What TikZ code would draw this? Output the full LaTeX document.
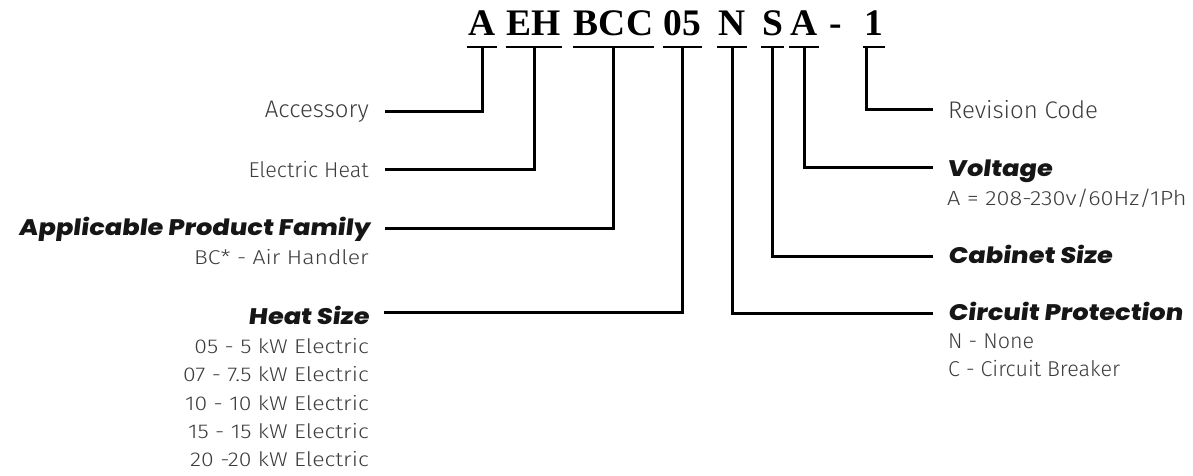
\documentclass[tikz,border=0pt]{standalone}
\usepackage{fontspec}
\setmainfont{Fira Sans Light}
\newfontfamily\lightw{Fira Sans Light}[FakeStretch=1.15]
\newfontfamily\heavyf{Poppins ExtraBold}[FakeSlant=0.12,FakeStretch=1.14]
\newfontfamily\codef{Liberation Serif Bold}
\definecolor{lighttext}{HTML}{3C3C3C}
\definecolor{heavytext}{HTML}{161616}
\begin{document}
\begin{tikzpicture}[x=1pt,y=-1pt,
  code/.style={font=\codef\fontsize{37.5}{40}\selectfont, inner xsep=1pt, inner ysep=0pt, anchor=base},
  lt/.style={font=\fontsize{#1}{#1}\selectfont, text=lighttext, inner sep=0pt},
  lt/.default=20,
  lw/.style={font=\lightw\fontsize{#1}{#1}\selectfont, text=lighttext, inner sep=0pt},
  lw/.default=20,
  hv/.style={font=\heavyf\fontsize{22.5}{26}\selectfont, text=heavytext, inner sep=0pt},
  wire/.style={line width=3pt, line join=miter},
  uline/.style={line width=2.7pt}]
\useasboundingbox (0,0) rectangle (1193,476);

% code letters
\node[code] (c1) at (482,36) {A};
\node[code] (c2) at (534,36) {EH};
\node[code] (c3) at (613.5,36) {BCC};
\node[code] (c4) at (682.5,36) {05};
\node[code] (c5) at (732,36) {N};
\node[code] (c6) at (772.5,36) {S};
\node[code] (c7) at (804,36) {A};
\node[code] (c8) at (836,36) {-};
\node[code] (c9) at (874,36) {1};

\foreach \i in {1,...,7,9} {
  \draw[uline] ([yshift=-11pt]c\i.base west) -- ([yshift=-11pt]c\i.base east);
  \coordinate (u\i) at ([yshift=-11pt]c\i.base);
}
\coordinate (u9) at ([yshift=-11pt,xshift=-8pt]c9.base);

% left labels
\node[lt=24, anchor=base east] (lAcc) at (369,117.3) {Accessory};
\node[lt=21.5, anchor=base east] (lEH) at (369,177) {Electric Heat};
\node[hv, anchor=base east] (lAPF) at (370,235.7) {Applicable Product Family};
\node[lw=20, anchor=base east] (sAPF) at (369,264.3) {BC* - Air Handler};
\node[hv, anchor=base east] (lHS) at (369,324) {Heat Size};
\node[lw=20, anchor=base east] (h1) at (369,353.3) {05 - 5 kW Electric};
\node[lw=20, anchor=base east] (h2) at (369,381.7) {07 - 7.5 kW Electric};
\node[lw=20, anchor=base east] (h3) at (369,410) {10 - 10 kW Electric};
\node[lw=20, anchor=base east] (h4) at (369,438.3) {15 - 15 kW Electric};
\node[lw=20, anchor=base east] (h5) at (369,466.7) {20 -20 kW Electric};

% right labels
\node[lt=24, anchor=base west] (lRC) at (948,118.3) {Revision Code};
\node[hv, anchor=base west] (lV) at (947,176) {Voltage};
\node[lw=20.5, anchor=base west] (sV) at (947,205) {A = 208-230v/60Hz/1Ph};
\node[hv, anchor=base west] (lCS) at (948,263.3) {Cabinet Size};
\node[hv, anchor=base west] (lCP) at (948,320.7) {Circuit Protection};
\node[lt=21.5, anchor=base west] (p1) at (948,348.3) {N - None};
\node[lt=21.5, anchor=base west] (p2) at (948,376) {C - Circuit Breaker};

% line ends
\coordinate (e1) at (385,111.7);
\coordinate (e2) at (385,169);
\coordinate (e3) at (385,228.3);
\coordinate (e4) at (384,312);
\coordinate (e5) at (933,313.3);
\coordinate (e6) at (933,256.7);
\coordinate (e7) at (933,167.3);
\coordinate (e9) at (933,110);

\foreach \i in {1,...,7,9} {
  \draw[wire] (u\i) |- (e\i);
}
\end{tikzpicture}
\end{document}
